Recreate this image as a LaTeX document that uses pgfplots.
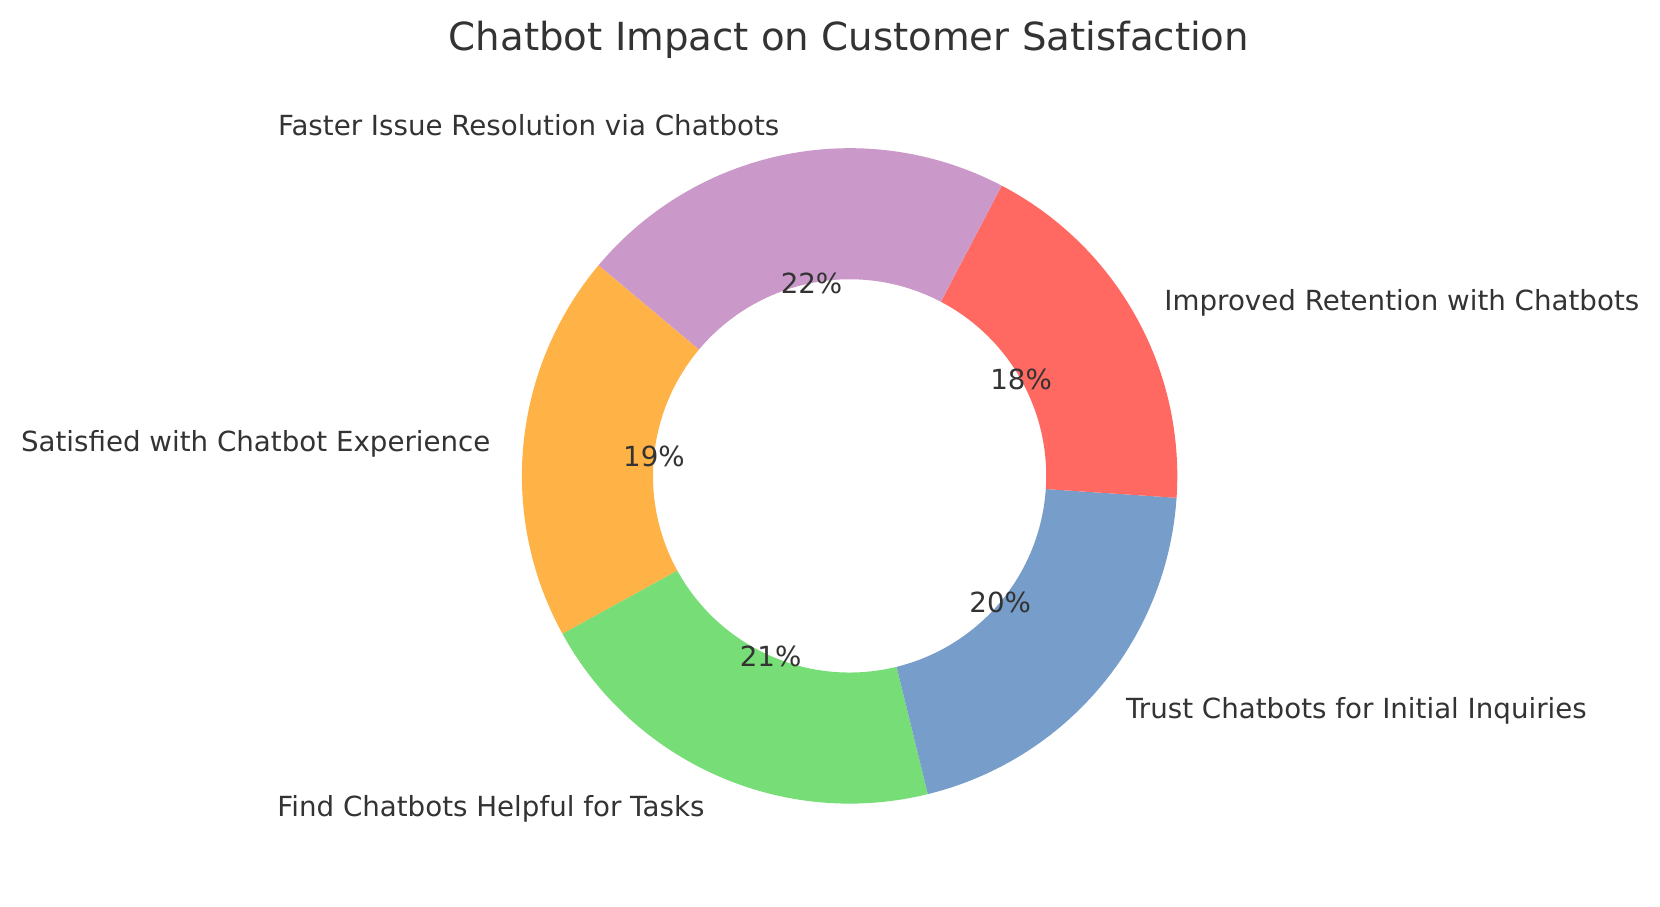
\documentclass[border=0pt]{standalone}
\usepackage{pgfplots}
\pgfplotsset{compat=1.18}
\usepackage{pgfplotstable}
\usepackage{fontspec}
\setmainfont{DejaVu Sans}
\definecolor{cOrange}{HTML}{FFB347}
\definecolor{cGreen}{HTML}{77DD77}
\definecolor{cBlue}{HTML}{779ECB}
\definecolor{cRed}{HTML}{FF6961}
\definecolor{cPurple}{HTML}{CB99C9}
\definecolor{txt}{HTML}{333333}
\tikzset{lbl/.style={text=txt, font=\fontsize{13.85}{16}\selectfont}}
\pgfplotstableread{
idx value
0 78
1 85
2 82
3 75
4 88
}\data
\begin{document}
\begin{tikzpicture}
\pgfplotstablegetelem{0}{value}\of\data \let\va\pgfplotsretval
\pgfplotstablegetelem{1}{value}\of\data \let\vb\pgfplotsretval
\pgfplotstablegetelem{2}{value}\of\data \let\vc\pgfplotsretval
\pgfplotstablegetelem{3}{value}\of\data \let\vd\pgfplotsretval
\pgfplotstablegetelem{4}{value}\of\data \let\ve\pgfplotsretval
\pgfmathsetmacro\tot{\va+\vb+\vc+\vd+\ve}
\pgfmathsetmacro\fa{\va/\tot}
\pgfmathsetmacro\fb{\vb/\tot}
\pgfmathsetmacro\fc{\vc/\tot}
\pgfmathsetmacro\fd{\vd/\tot}
\pgfmathsetmacro\fe{\ve/\tot}
\pgfmathsetmacro\aA{140}
\pgfmathsetmacro\aB{\aA+360*\fa}
\pgfmathsetmacro\aC{\aB+360*\fb}
\pgfmathsetmacro\aD{\aC+360*\fc}
\pgfmathsetmacro\aE{\aD+360*\fd}
\pgfmathsetmacro\aF{\aE+360*\fe}
\pgfmathsetmacro\mA{(\aA+\aB)/2}
\pgfmathsetmacro\mB{(\aB+\aC)/2}
\pgfmathsetmacro\mC{(\aC+\aD)/2}
\pgfmathsetmacro\mD{(\aD+\aE)/2}
\pgfmathsetmacro\mE{(\aE+\aF)/2}
\pgfmathtruncatemacro\pA{round(100*\fa)}
\pgfmathtruncatemacro\pB{round(100*\fb)}
\pgfmathtruncatemacro\pC{round(100*\fc)}
\pgfmathtruncatemacro\pD{round(100*\fd)}
\pgfmathtruncatemacro\pE{round(100*\fe)}
\def\R{163.85pt}
\def\r{98.31pt}
\def\Rin{-65.54pt}
\def\Rp{98.31pt}
\def\Rl{180.24pt}
\begin{axis}[
  x=0.5pt, y=0.5pt,
  xmin=0, xmax=1660, ymin=0, ymax=906,
  hide axis, clip=false,
]
\path (axis cs:0,0) rectangle (axis cs:1660,906);
\fill[cOrange] (axis cs:849.6,430.1) ++(\aA:\R) arc[start angle=\aA, end angle=\aB, radius=\R] -- ++(\aB:\Rin) arc[start angle=\aB, end angle=\aA, radius=\r] -- cycle;
\fill[cGreen] (axis cs:849.6,430.1) ++(\aB:\R) arc[start angle=\aB, end angle=\aC, radius=\R] -- ++(\aC:\Rin) arc[start angle=\aC, end angle=\aB, radius=\r] -- cycle;
\fill[cBlue] (axis cs:849.6,430.1) ++(\aC:\R) arc[start angle=\aC, end angle=\aD, radius=\R] -- ++(\aD:\Rin) arc[start angle=\aD, end angle=\aC, radius=\r] -- cycle;
\fill[cRed] (axis cs:849.6,430.1) ++(\aD:\R) arc[start angle=\aD, end angle=\aE, radius=\R] -- ++(\aE:\Rin) arc[start angle=\aE, end angle=\aD, radius=\r] -- cycle;
\fill[cPurple] (axis cs:849.6,430.1) ++(\aE:\R) arc[start angle=\aE, end angle=\aF, radius=\R] -- ++(\aF:\Rin) arc[start angle=\aF, end angle=\aE, radius=\r] -- cycle;
% percentages
\path (axis cs:849.6,430.1) ++(\mA:\Rp) node[lbl] {\pA\%};
\path (axis cs:849.6,430.1) ++(\mB:\Rp) node[lbl] {\pB\%};
\path (axis cs:849.6,430.1) ++(\mC:\Rp) node[lbl] {\pC\%};
\path (axis cs:849.6,430.1) ++(\mD:\Rp) node[lbl] {\pD\%};
\path (axis cs:849.6,430.1) ++(\mE:\Rp) node[lbl] {\pE\%};
% labels
\path (axis cs:849.6,430.1) ++(\mA:\Rl) node[lbl, anchor=east, inner sep=0pt, yshift=-1.5pt] {Satisfied with Chatbot Experience};
\path (axis cs:849.6,430.1) ++(\mB:\Rl) node[lbl, anchor=east, inner sep=0pt, yshift=-1.5pt] {Find Chatbots Helpful for Tasks};
\path (axis cs:849.6,430.1) ++(\mC:\Rl) node[lbl, anchor=west, inner sep=0pt, yshift=-1.5pt] {Trust Chatbots for Initial Inquiries};
\path (axis cs:849.6,430.1) ++(\mD:\Rl) node[lbl, anchor=west, inner sep=0pt, yshift=-1.5pt] {Improved Retention with Chatbots};
\path (axis cs:849.6,430.1) ++(\mE:\Rl) node[lbl, anchor=east, inner sep=0pt, yshift=-1.5pt] {Faster Issue Resolution via Chatbots};
\node[font=\fontsize{19.35}{22}\selectfont, text=txt] at (axis cs:849,866) {Chatbot Impact on Customer Satisfaction};
\end{axis}
\end{tikzpicture}
\end{document}
